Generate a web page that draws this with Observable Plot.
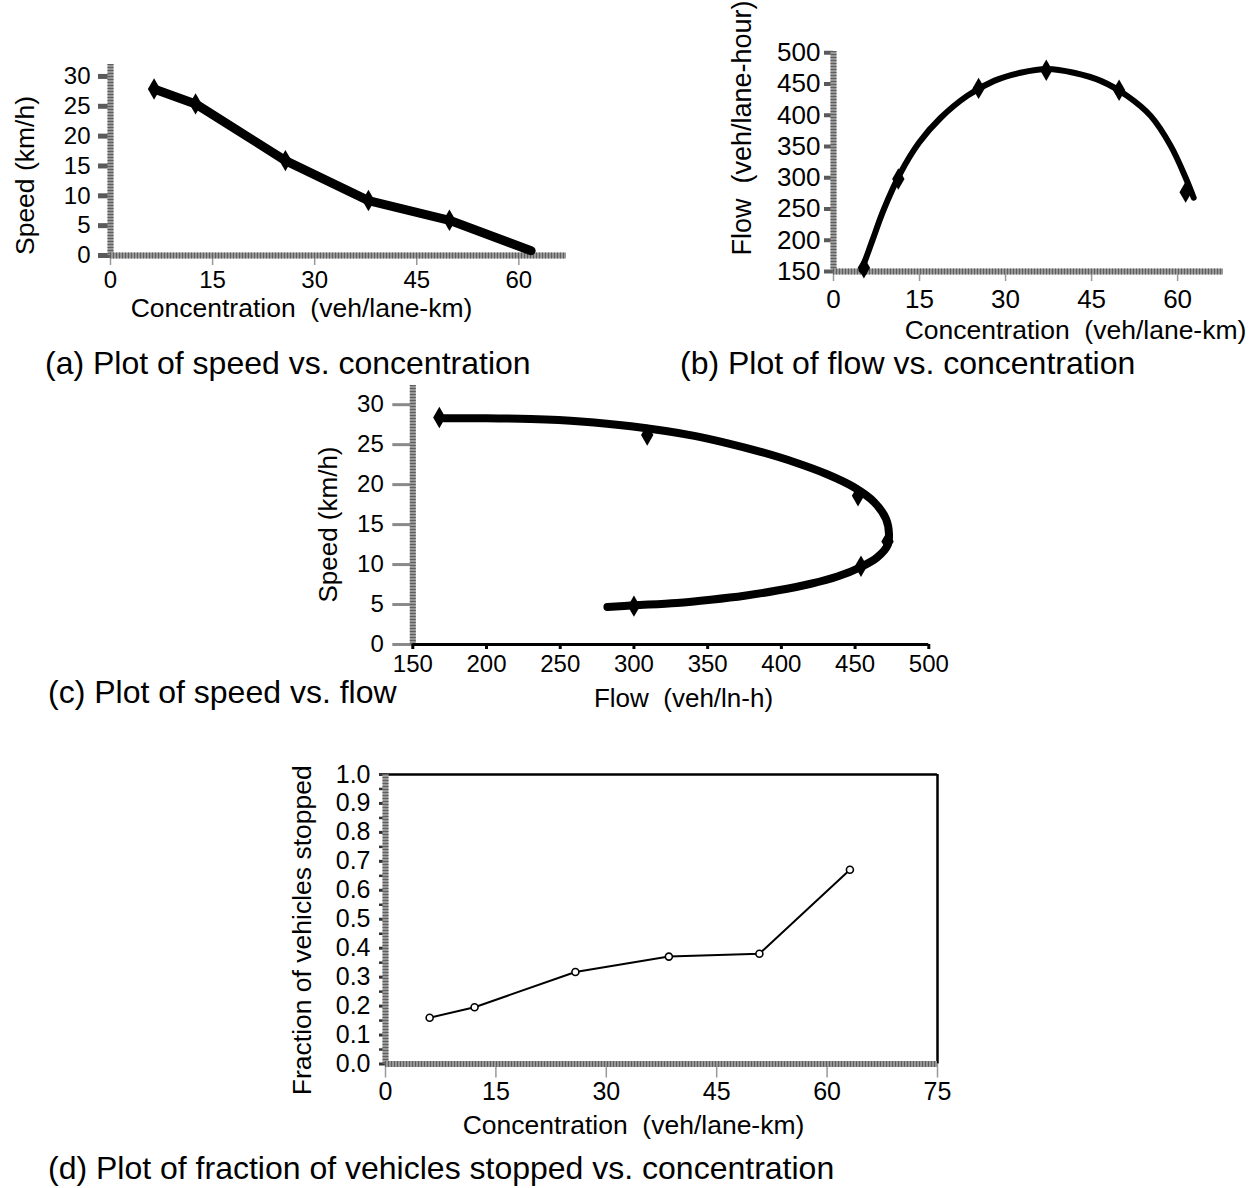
<!DOCTYPE html>
<html>
<head>
<meta charset="utf-8">
<script src="https://cdn.jsdelivr.net/npm/d3@7"></script>
<script src="https://cdn.jsdelivr.net/npm/@observablehq/plot@0.6"></script>
<style>
  html, body { margin: 0; padding: 0; background: #fff; }
  #root { position: relative; width: 1257px; height: 1188px; overflow: hidden; background: #fff;
          font-family: "Liberation Sans", Arial, Helvetica, sans-serif; color: #000; }
  .cap { position: absolute; font-size: 32px; line-height: 1; white-space: pre; color: #000; }
  svg text { white-space: pre; }
</style>
</head>
<body>
<div id="root"></div>
<script>
// ---------------- Panel (a): speed vs. concentration ----------------
const concA = [6.4, 12.5, 25.7, 37.9, 49.8];
const speedA = [27.9, 25.4, 15.9, 9.2, 5.9];
const lineConcA = [6.4, 12.5, 25.7, 37.9, 49.8, 61.8];
const lineSpeedA = [27.9, 25.4, 15.9, 9.2, 5.9, 0.8];
const xTicksA = [0, 15, 30, 45, 60];
const yTicksA = [0, 5, 10, 15, 20, 25, 30];
const titleXA = "Concentration  (veh/lane-km)";
const titleYA = "Speed (km/h)";
const captionA = "(a) Plot of speed vs. concentration";

// ---------------- Panel (b): flow vs. concentration ----------------
const concB = [5.3, 11.3, 25.3, 37.1, 49.8, 61.4];
const flowB = [156, 298, 443, 472, 440, 277];
const fitConcB = [4.9, 6.75, 8.8, 11.7, 14.9, 18.7, 23.3, 28.0, 32.6, 37.3, 41.9, 46.6, 51.2, 55.3, 58.8, 61.4, 62.8];
const fitFlowB = [152, 199, 250, 308, 356, 396, 431, 455, 468, 474, 468, 455, 431, 399, 351, 300, 268];
const xTicksB = [0, 15, 30, 45, 60];
const yTicksB = [150, 200, 250, 300, 350, 400, 450, 500];
const titleXB = "Concentration  (veh/lane-km)";
const titleYB = "Flow  (veh/lane-hour)";
const captionB = "(b) Plot of flow vs. concentration";

// ---------------- Panel (c): speed vs. flow ----------------
const flowC = [168, 309, 452, 472, 454, 300];
const speedC = [28.4, 26.2, 18.6, 12.9, 9.8, 4.8];
const fitFlowC = [171, 200, 230, 264, 298, 341, 363, 386, 409, 431, 449, 463, 471, 473, 472, 465, 454, 438, 420, 397, 375, 352, 329, 300, 282];
const fitSpeedC = [28.3, 28.3, 28.2, 27.9, 27.3, 26.1, 25.2, 24.1, 22.8, 21.3, 19.7, 17.8, 15.7, 13.8, 12.4, 10.9, 9.7, 8.5, 7.6, 6.75, 6.1, 5.6, 5.2, 4.9, 4.7];
const xTicksC = [150, 200, 250, 300, 350, 400, 450, 500];
const yTicksC = [0, 5, 10, 15, 20, 25, 30];
const titleXC = "Flow  (veh/ln-h)";
const titleYC = "Speed (km/h)";
const captionC = "(c) Plot of speed vs. flow";

// ---------------- Panel (d): fraction stopped vs. concentration ----------------
const concD = [6.0, 12.1, 25.8, 38.5, 50.8, 63.1];
const fracD = [0.16, 0.196, 0.318, 0.371, 0.381, 0.671];
const xTicksD = [0, 15, 30, 45, 60, 75];
const yTicksD = [0, 0.1, 0.2, 0.3, 0.4, 0.5, 0.6, 0.7, 0.8, 0.9, 1.0];
const yMinorTicksD = [0.05, 0.15, 0.25, 0.35, 0.45, 0.55, 0.65, 0.75, 0.85, 0.95];
const titleXD = "Concentration  (veh/lane-km)";
const titleYD = "Fraction of vehicles stopped";
const captionD = "(d) Plot of fraction of vehicles stopped vs. concentration";

// ---------------- helpers ----------------
const FONT = '"Liberation Sans", Arial, Helvetica, sans-serif';
const STYLE = {fontFamily: FONT, background: "none", color: "#000", overflow: "visible"};
const root = document.getElementById("root");

function place(node, left, top) {
  node.style.position = "absolute";
  node.style.left = left + "px";
  node.style.top = top + "px";
  root.appendChild(node);
}
function caption(text, left, top) {
  const d = document.createElement("div");
  d.className = "cap";
  d.textContent = text;
  d.style.left = left + "px";
  d.style.top = top + "px";
  root.appendChild(d);
}
// textured grey axis bars (as in the scanned original)
function barX(v) {
  return [
    Plot.ruleX(v, {stroke: "#979797", strokeWidth: 6}),
    Plot.ruleX(v, {stroke: "#5f5f5f", strokeWidth: 6, strokeDasharray: "1,2"})
  ];
}
function barY(v) {
  return [
    Plot.ruleY(v, {stroke: "#979797", strokeWidth: 6}),
    Plot.ruleY(v, {stroke: "#5f5f5f", strokeWidth: 6, strokeDasharray: "1,2"})
  ];
}
const zip = (xs, ys) => xs.map((x, i) => ({x, y: ys[i]}));
const titleX = (t, dx, dy, fs) => Plot.text([t], {text: d => d, frameAnchor: "bottom", textAnchor: "middle", lineAnchor: "middle", dx, dy, fontSize: fs});
const titleY = (t, dx, dy, fs, anchor = "middle") => Plot.text([t], {text: d => d, frameAnchor: "left", rotate: -90, textAnchor: anchor, lineAnchor: "middle", dx, dy, fontSize: fs});

// ---------------- (a) ----------------
const plotA = Plot.plot({
  width: 600, height: 290,
  marginLeft: 110, marginRight: 34, marginTop: 24, marginBottom: 75,
  x: {domain: [0, 67]}, y: {domain: [0, 32]},
  style: STYLE,
  marks: [
    Plot.axisY(yTicksA, {tickSize: 12, strokeWidth: 5, stroke: "#5a5a5a", fontSize: 24, tickPadding: 8, label: null}),
    Plot.axisX(xTicksA, {tickSize: 10, strokeWidth: 1.5, stroke: "#999", fontSize: 24, tickPadding: 5, label: null}),
    ...barX([0]), ...barY([0]),
    Plot.line(zip(lineConcA, lineSpeedA), {x: "x", y: "y", stroke: "#000", strokeWidth: 9, strokeLinejoin: "round", strokeLinecap: "round"}),
    Plot.dot(zip(concA, speedA), {x: "x", y: "y", symbol: "diamond", r: 6.5, fill: "#000"}),
    titleX(titleXA, -37, 53, 26.5),
    titleY(titleYA, -85, 15.5, 26.5)
  ]
});
place(plotA, 0, 40);

// ---------------- (b) ----------------
const plotB = Plot.plot({
  width: 557, height: 345,
  marginLeft: 133, marginRight: 34, marginTop: 51, marginBottom: 74,
  x: {domain: [0, 68]}, y: {domain: [150, 502]},
  style: STYLE,
  marks: [
    Plot.axisY(yTicksB, {tickSize: 9, strokeWidth: 4, stroke: "#5a5a5a", fontSize: 26, tickPadding: 4, label: null}),
    Plot.axisX(xTicksB, {tickSize: 10, strokeWidth: 1.5, stroke: "#999", fontSize: 26, tickPadding: 8, label: null}),
    ...barX([0]), ...barY([150]),
    Plot.line(zip(fitConcB, fitFlowB), {x: "x", y: "y", curve: "catmull-rom", stroke: "#000", strokeWidth: 6, strokeLinecap: "round"}),
    Plot.dot(zip(concB, flowB), {x: "x", y: "y", symbol: "diamond", r: 6.5, fill: "#000"}),
    titleX(titleXB, 47, 59, 26.5),
    titleY(titleYB, -91, 94, 27, "start")
  ]
});
place(plotB, 700, 0);

// ---------------- (c) ----------------
const plotC = Plot.plot({
  width: 680, height: 340,
  marginLeft: 112.3, marginRight: 51.7, marginTop: 15, marginBottom: 66,
  x: {domain: [150, 500]}, y: {domain: [0, 32.4]},
  style: STYLE,
  marks: [
    Plot.axisY(yTicksC, {tickSize: 20, strokeWidth: 3, stroke: "#8a8a8a", fontSize: 24, tickPadding: 9, label: null}),
    Plot.axisX(xTicksC, {tickSize: 5, strokeWidth: 3, stroke: "#000", fontSize: 24, tickPadding: 5, label: null}),
    ...barX([150]),
    Plot.ruleY([0], {stroke: "#000", strokeWidth: 3}),
    Plot.line(zip(fitFlowC, fitSpeedC), {x: "x", y: "y", curve: "catmull-rom", stroke: "#000", strokeWidth: 8, strokeLinecap: "round"}),
    Plot.dot(zip(flowC, speedC), {x: "x", y: "y", symbol: "diamond", r: 6.5, fill: "#000"}),
    titleX(titleXC, 12.7, 54, 26),
    titleY(titleYC, -84.3, 9.5, 26)
  ]
});
place(plotC, 300, 370);

// ---------------- (d) ----------------
const plotD = Plot.plot({
  width: 700, height: 400,
  marginLeft: 115, marginRight: 33, marginTop: 24, marginBottom: 86.5,
  x: {domain: [0, 75]}, y: {domain: [0, 1]},
  style: STYLE,
  marks: [
    Plot.axisY(yMinorTicksD, {tickSize: 6, strokeWidth: 2.5, stroke: "#333", tickFormat: () => "", label: null}),
    Plot.axisY(yTicksD, {tickSize: 6, strokeWidth: 3, stroke: "#333", fontSize: 25, tickPadding: 9, tickFormat: d3.format(".1f"), label: null}),
    Plot.axisX(xTicksD, {tickSize: 14, strokeWidth: 1.5, stroke: "#999", fontSize: 25, tickPadding: 4, label: null}),
    Plot.ruleY([1], {stroke: "#000", strokeWidth: 2.5}),
    Plot.ruleX([75], {stroke: "#000", strokeWidth: 2.5}),
    ...barX([0]), ...barY([0]),
    Plot.line(zip(concD, fracD), {x: "x", y: "y", stroke: "#000", strokeWidth: 2}),
    Plot.dot(zip(concD, fracD), {x: "x", y: "y", r: 3.5, stroke: "#000", strokeWidth: 1.6, fill: "#fff"}),
    titleX(titleXD, -28, 61.5, 26.5),
    titleY(titleYD, -83, 11, 26.5)
  ]
});
place(plotD, 270, 750);

// ---------------- captions ----------------
caption(captionA, 45, 347);
caption(captionB, 680, 347);
caption(captionC, 48, 676);
caption(captionD, 48, 1152);
</script>
</body>
</html>
